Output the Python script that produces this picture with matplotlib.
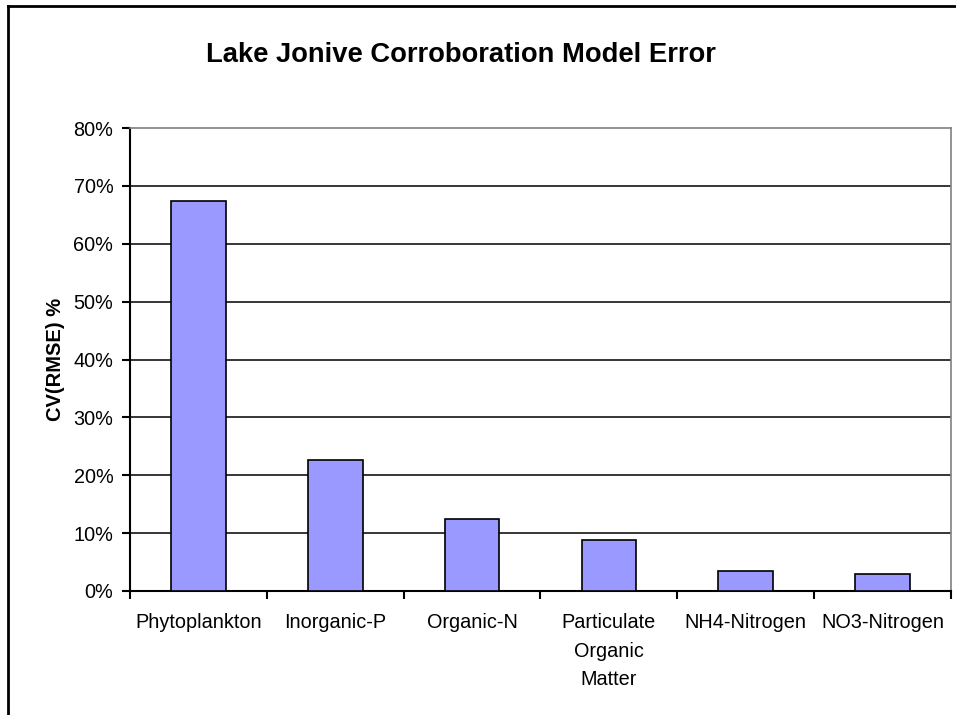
import matplotlib.pyplot as plt
from matplotlib.lines import Line2D
from matplotlib.ticker import FuncFormatter

plt.rcParams['font.family'] = ['Liberation Sans', 'DejaVu Sans']

# 数据
categories = ['Phytoplankton', 'Inorganic-P', 'Organic-N',
              'Particulate\nOrganic\nMatter', 'NH4-Nitrogen', 'NO3-Nitrogen']
cv_rmse = [67.4, 22.6, 12.4, 8.8, 3.5, 2.9]
y_ticks = [0, 10, 20, 30, 40, 50, 60, 70, 80]

fig = plt.figure(figsize=(9.56, 7.15), dpi=100)
ax = fig.add_axes([130/956, 1-591/715, (951-130)/956, (591-128)/715])

x = range(len(categories))
ax.bar(x, cv_rmse, width=0.4, color='#9999FF', edgecolor='black', linewidth=1.2, zorder=3)

ax.set_xlim(-0.5, len(categories)-0.5)
ax.set_ylim(0, 80)
ax.set_yticks(y_ticks)
ax.yaxis.set_major_formatter(FuncFormatter(lambda v, p: '%d%%' % v))
for v in y_ticks[1:-1]:
    ax.axhline(v, color='black', linewidth=1.1, zorder=1)

# x轴: 标签在中间, 刻度在类别之间
ax.set_xticks(list(x))
ax.set_xticklabels(categories, fontsize=14.3, linespacing=1.62, va='top')
ax.set_xticks([i+0.5 for i in range(-1, len(categories))], minor=True)
ax.tick_params(axis='x', which='major', length=0, pad=16)
ax.tick_params(axis='x', which='minor', length=6, width=1.5, direction='out')
ax.tick_params(axis='y', length=6, width=1.5, direction='out', labelsize=14.3, pad=6)

ax.spines['left'].set_linewidth(1.5)
ax.spines['bottom'].set_linewidth(1.5)
ax.spines['top'].set_color('#808080')
ax.spines['right'].set_color('#808080')
ax.spines['top'].set_linewidth(1.2)
ax.spines['right'].set_linewidth(1.2)

ax.set_ylabel('CV(RMSE) %', fontsize=14.5, fontweight='bold', labelpad=6)
fig.text(461/956, 1-55/715, 'Lake Jonive Corroboration Model Error',
         fontsize=19.7, fontweight='bold', ha='center', va='center')

# 外框
fig.add_artist(Line2D([8/956, 8/956], [0, 1-6/715], color='black', linewidth=2, transform=fig.transFigure))
fig.add_artist(Line2D([8/956, 1], [1-6/715, 1-6/715], color='black', linewidth=2, transform=fig.transFigure))

fig.savefig('out.png', dpi=100)
